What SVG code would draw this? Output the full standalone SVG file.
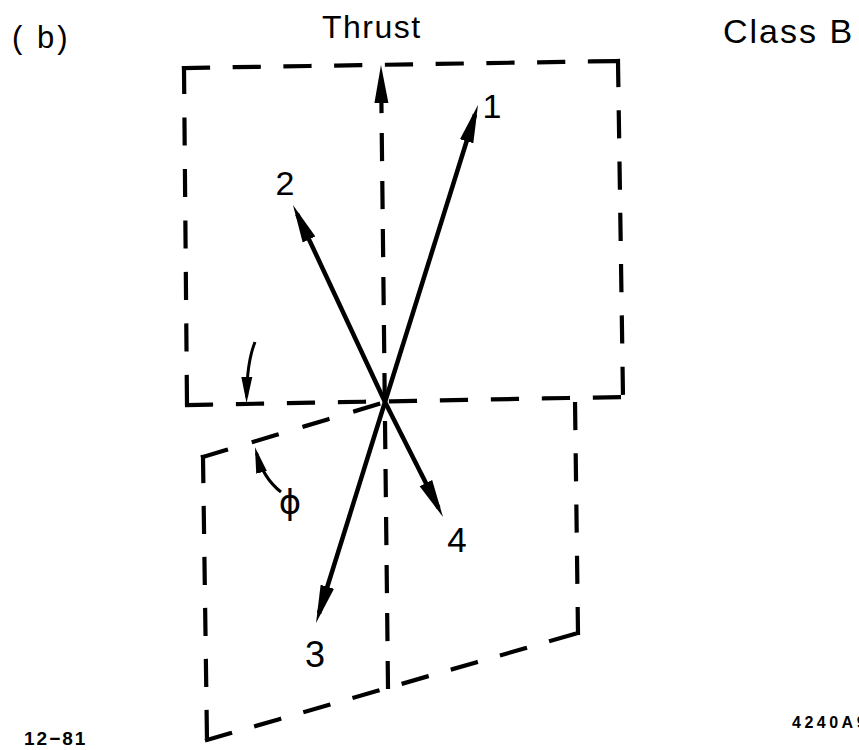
<svg xmlns="http://www.w3.org/2000/svg" width="859" height="750" viewBox="0 0 859 750">
<style>
.bg{fill:#fff}
.d{fill:none;stroke:#000;stroke-width:4.2;stroke-linecap:square}
.a{fill:none;stroke:#000;stroke-width:4.5;stroke-linecap:butt}
.c{fill:none;stroke:#000;stroke-width:3}
.t{font-family:"Liberation Sans","DejaVu Sans",sans-serif;fill:#000}
.g{font-family:"DejaVu Sans",sans-serif;fill:#000}
.s{font-family:"Liberation Sans Narrow","Liberation Sans",sans-serif;font-weight:bold;fill:#000}
</style>
<defs>
<marker id="ah" markerUnits="userSpaceOnUse" markerWidth="38" markerHeight="16" viewBox="0 0 38 16" refX="28" refY="8" orient="auto">
<path d="M0,1 L38,8 L0,15 Z" fill="#000" stroke="none"/>
</marker>
<marker id="sh" markerUnits="userSpaceOnUse" markerWidth="26" markerHeight="12" viewBox="0 0 26 12" refX="20" refY="6" orient="auto">
<path d="M0,0.5 L26,6 L0,11.5 Z" fill="#000" stroke="none"/>
</marker>
</defs>
<rect class="bg" x="0" y="0" width="859" height="750"/>

<g id="upper-frame">
<line class="d" x1="184" y1="68" x2="618" y2="61" stroke-dasharray="24 26.75"/>
<line class="d" x1="184" y1="68" x2="187" y2="405" stroke-dasharray="24 27.5"/>
<line class="d" x1="618" y1="61" x2="623" y2="397" stroke-dasharray="24 27.3"/>
<line class="d" x1="187" y1="405" x2="623" y2="397" stroke-dasharray="24 27"/>
</g>

<g id="lower-frame">
<line class="d" x1="203" y1="457" x2="382" y2="403" stroke-dasharray="24 29"/>
<line class="d" x1="203" y1="457" x2="207" y2="740" stroke-dasharray="24 27"/>
<line class="d" x1="207" y1="740" x2="578" y2="633" stroke-dasharray="24 27.16"/>
<line class="d" x1="578" y1="633" x2="575" y2="400" stroke-dasharray="24 27.25"/>
</g>

<g id="connectors">
<line id="thrust" class="d" x1="388" y1="687" x2="381.1" y2="75" stroke-dasharray="24 24" marker-end="url(#ah)"/>
<line id="v1" class="a" x1="385" y1="402" x2="475" y2="114.5" marker-end="url(#ah)"/>
<line id="v2" class="a" x1="385" y1="402" x2="297.2" y2="214.1" marker-end="url(#ah)"/>
<line id="v3" class="a" x1="385" y1="402" x2="319" y2="613.5" marker-end="url(#ah)"/>
<line id="v4" class="a" x1="385" y1="402" x2="438.5" y2="508.1" marker-end="url(#ah)"/>
<path id="angle-upper" class="c" d="M255,342 Q247,362 246.6,397" marker-end="url(#sh)"/>
<path id="angle-lower" class="c" d="M281,492 Q263,478 256.5,453" marker-end="url(#sh)"/>
</g>

<g id="labels">
<text class="t" x="12" y="48" font-size="31" letter-spacing="3">( b)</text>
<text class="t" x="322" y="38" font-size="32" letter-spacing="1.5">Thrust</text>
<text class="t" x="723" y="43" font-size="34" letter-spacing="2">Class B</text>
<text class="t" x="492" y="118" font-size="34" text-anchor="middle">1</text>
<text class="t" x="285" y="195" font-size="34" text-anchor="middle">2</text>
<text class="t" x="315" y="667" font-size="36" text-anchor="middle">3</text>
<text class="t" x="457" y="552" font-size="35" text-anchor="middle">4</text>
<text class="g" x="290" y="514" font-size="34" text-anchor="middle">ϕ</text>
<text class="s" x="24" y="745" font-size="19" letter-spacing="2">12−81</text>
<text class="s" x="792" y="728" font-size="16" letter-spacing="3.5">4240A9</text>
</g>
</svg>
